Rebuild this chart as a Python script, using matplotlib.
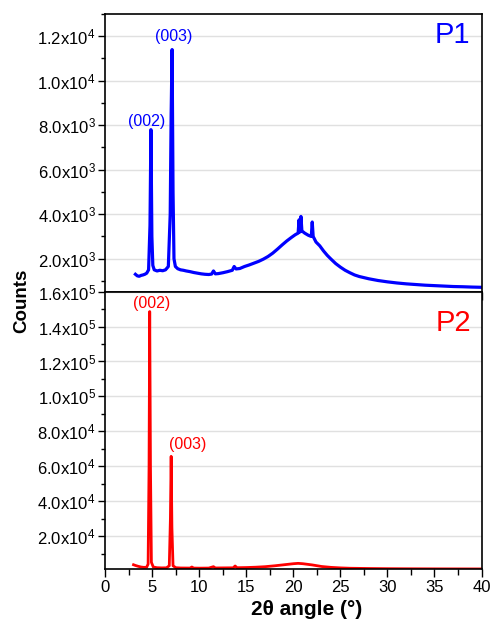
import matplotlib
matplotlib.use("Agg")
import matplotlib.pyplot as plt
from matplotlib.ticker import FixedLocator, MultipleLocator, FuncFormatter

plt.rcParams["font.family"] = ["Liberation Sans", "DejaVu Sans"]
plt.rcParams["mathtext.fontset"] = "custom"
plt.rcParams["mathtext.rm"] = "Liberation Sans"
plt.rcParams["mathtext.default"] = "regular"

# P1 pattern (2theta in degrees, counts)
p1_angle = [3.2, 3.4, 3.6, 3.8, 4.0, 4.2, 4.4, 4.6, 4.75, 4.85, 4.95, 5.05, 5.2, 5.5,
            5.8, 6.1, 6.4, 6.7, 6.9, 7.0, 7.1, 7.2, 7.3, 7.45, 7.7, 8.0, 8.3, 8.6,
            9.0, 9.4, 9.8, 10.2, 10.6, 11.0, 11.3, 11.5, 11.7, 12.0, 12.5, 13.0, 13.5,
            13.7, 13.9, 14.3, 14.8, 15.3, 15.8, 16.3, 16.8, 17.3, 17.8, 18.3, 18.8,
            19.3, 19.8, 20.2, 20.5, 20.6, 20.7, 20.8, 20.9, 21.2, 21.6, 21.9, 22.0,
            22.1, 22.4, 22.8, 23.2, 23.6, 24.0, 24.5, 25.0, 25.5, 26.0, 26.5, 27.0,
            27.5, 28.0, 29.0, 30.0, 31.0, 32.0, 33.0, 34.0, 35.0, 36.0, 37.0, 38.0,
            39.0, 40.0]
p1_counts = [1300, 1230, 1210, 1250, 1270, 1300, 1350, 1500, 3500, 7800, 3000, 1700, 1500, 1450,
             1480, 1460, 1500, 1650, 4000, 8500, 11400, 5000, 2000, 1650, 1550, 1500, 1480, 1450,
             1420, 1380, 1350, 1320, 1300, 1290, 1310, 1450, 1320, 1330, 1370, 1420, 1480,
             1650, 1540, 1560, 1650, 1720, 1800, 1880, 1980, 2100, 2250, 2430, 2620,
             2800, 2960, 3080, 3150, 3750, 3200, 3900, 3250, 3150, 3050, 3000, 3650,
             3000, 2750, 2580, 2350, 2150, 1980, 1780, 1620, 1480, 1370, 1270, 1200,
             1150, 1100, 1020, 960, 910, 870, 840, 810, 790, 770, 750, 740,
             725, 715]

# P2 pattern
p2_angle = [3.0, 3.2, 3.5, 3.8, 4.1, 4.4, 4.55, 4.65, 4.72, 4.8, 4.9, 5.1, 5.5, 6.0, 6.5,
            6.8, 6.92, 7.0, 7.08, 7.2, 7.5, 8.0, 9.0, 9.2, 9.4, 10.0, 11.0, 11.5, 11.7,
            12.5, 13.6, 13.8, 14.0, 15.0, 16.0, 17.0, 18.0, 19.0, 20.0, 20.5, 21.0, 22.0,
            23.0, 24.0, 25.0, 26.0, 28.0, 30.0, 32.0, 35.0, 38.0, 40.0]
p2_counts = [3600, 3200, 2700, 2300, 2100, 2200, 4000, 60000, 148600, 60000, 5000, 2300, 1900, 1800, 1850,
             3000, 30000, 65700, 25000, 3000, 1900, 1750, 1700, 2300, 1700, 1650, 1700, 2500, 1750,
             1800, 1850, 2900, 1900, 2000, 2200, 2500, 3000, 3600, 4200, 4400, 4200, 3500,
             2600, 2100, 1800, 1600, 1450, 1350, 1300, 1250, 1220, 1200]

p1_ticks = [2000, 4000, 6000, 8000, 10000, 12000]
p2_ticks = [20000, 40000, 60000, 80000, 100000, 120000, 140000, 160000]


def sci_label(v, pos=None):
    exp = len(str(int(v))) - 1
    mant = v / 10 ** exp
    return f"{mant:.1f}x10$^{{{exp}}}$"


def style_axis(ax, ticks, minor_step):
    ax.set_xlim(0, 40)
    ax.yaxis.set_major_locator(FixedLocator(ticks))
    ax.yaxis.set_minor_locator(MultipleLocator(minor_step))
    ax.yaxis.set_major_formatter(FuncFormatter(sci_label))
    ax.xaxis.set_major_locator(MultipleLocator(5))
    ax.xaxis.set_minor_locator(MultipleLocator(2.5))
    ax.tick_params(which="major", direction="out", length=5, width=1, labelsize=12, pad=2)
    ax.tick_params(which="minor", direction="out", length=3, width=1)
    ax.tick_params(axis="x", which="major", length=6)
    ax.tick_params(axis="x", which="minor", length=4)
    ax.grid(axis="y", which="major", color="#e0e0e0", linewidth=1)
    ax.set_axisbelow(True)
    for s in ax.spines.values():
        s.set_linewidth(1.2)


fig = plt.figure(figsize=(4.91, 6.19), dpi=100)
gs = fig.add_gridspec(2, 1, left=0.2145, right=0.9807, top=0.9774, bottom=0.0803, hspace=0)
ax1 = fig.add_subplot(gs[0])
ax2 = fig.add_subplot(gs[1], sharex=ax1)

ax1.plot(p1_angle, p1_counts, color="#0000ff", linewidth=2.3)
ax1.set_ylim(520, 13000)
style_axis(ax1, p1_ticks, 1000)
ax1.tick_params(axis="x", labelbottom=False)
ax1.text(4.44, 8190, "(002)", color="#0000ff", fontsize=11.5, ha="center", va="center")
ax1.text(7.28, 12000, "(003)", color="#0000ff", fontsize=11.5, ha="center", va="center")
ax1.text(0.923, 0.923, "P1", color="#0000ff", fontsize=21, ha="center", va="center",
         transform=ax1.transAxes)

ax2.plot(p2_angle, p2_counts, color="#ff0000", linewidth=2)
ax2.set_ylim(1000, 160000)
style_axis(ax2, p2_ticks, 10000)
ax2.text(4.9, 153000, "(002)", color="#ff0000", fontsize=11.5, ha="center", va="center")
ax2.text(8.72, 72600, "(003)", color="#ff0000", fontsize=11.5, ha="center", va="center")
ax2.text(0.925, 0.888, "P2", color="#ff0000", fontsize=21, ha="center", va="center",
         transform=ax2.transAxes)

fig.text(0.624, 0.016, "2θ angle (°)", fontsize=15, fontweight="bold",
         ha="center", va="center")
fig.text(0.044, 0.514, "Counts", rotation=90, fontsize=13.5, fontweight="bold",
         ha="center", va="center")

fig.savefig("out.png", dpi=100)
plt.close(fig)
